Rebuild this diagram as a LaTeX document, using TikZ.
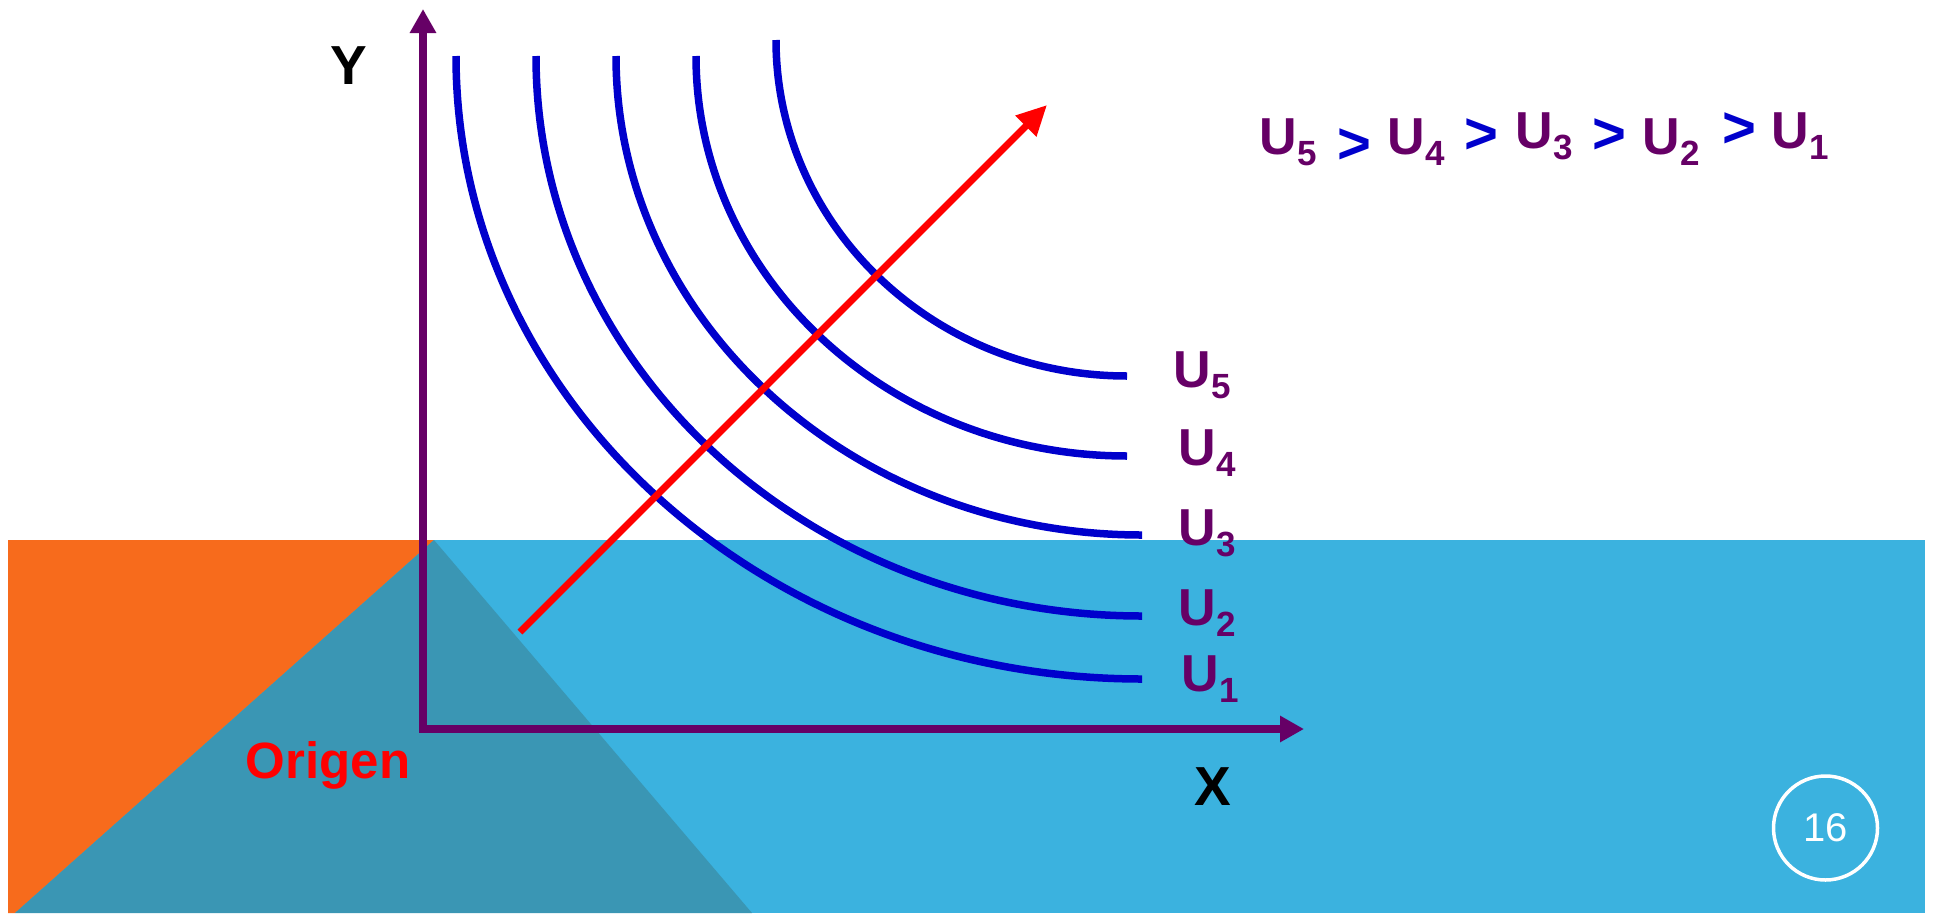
\documentclass[tikz,border=0pt]{standalone}
\usepackage{fontspec}
\setmainfont{Liberation Sans}
\usetikzlibrary{arrows.meta}
\definecolor{bandblue}{HTML}{3BB2DF}
\definecolor{bandorange}{HTML}{F76B1C}
\definecolor{bandteal}{HTML}{3A96B4}
\definecolor{axpurple}{HTML}{660066}
\definecolor{curveblue}{HTML}{0000CC}
\definecolor{arrowred}{HTML}{FF0000}
\tikzset{
  ucurve/.style={draw=curveblue, line width=7.5pt},
  axisline/.style={draw=axpurple, line width=8pt, line join=miter,
    {Triangle[length=24pt,width=25pt]}-{Triangle[length=24pt,width=25pt]}},
  redarrow/.style={draw=arrowred, line width=7pt, -{Triangle[length=30pt,width=28pt]}},
  ulab/.style={inner sep=0pt, anchor=base west, text=axpurple,
    font=\fontsize{52}{60}\selectfont\bfseries},
  gt/.style={inner sep=0pt, anchor=center, text=curveblue,
    font=\fontsize{58}{66}\selectfont\bfseries},
  axlab/.style={inner sep=0pt, anchor=center, text=black,
    font=\fontsize{55}{62}\selectfont\bfseries},
}
\newcommand{\Usub}[1]{U\kern1pt\raisebox{-11pt}{\fontsize{35}{40}\selectfont #1}}
\begin{document}
\begin{tikzpicture}[x=1pt,y=-1pt]
\useasboundingbox (0,0) rectangle (1937,913);
% background band
\fill[bandblue] (8,540) rectangle (1925,913);
\fill[bandorange] (8,540) -- (434,540) -- (15,913) -- (8,913) -- cycle;
\fill[bandteal] (434,540) -- (15,913) -- (752,913) -- cycle;
% indifference curves
\coordinate (u1s) at (456,56);  \coordinate (u1e) at (1142,679);
\coordinate (u2s) at (536,56);  \coordinate (u2e) at (1142,616);
\coordinate (u3s) at (616,56);  \coordinate (u3e) at (1142,535);
\coordinate (u4s) at (696,56);  \coordinate (u4e) at (1127,456);
\coordinate (u5s) at (776,40);  \coordinate (u5e) at (1127,376);
\draw[ucurve] (u1s) .. controls (456,400) and (763,679) .. (u1e);
\draw[ucurve] (u2s) .. controls (536,365) and (807,616) .. (u2e);
\draw[ucurve] (u3s) .. controls (616,320) and (852,535) .. (u3e);
\draw[ucurve] (u4s) .. controls (696,277) and (889,456) .. (u4e);
\draw[ucurve] (u5s) .. controls (776,225) and (933,376) .. (u5e);
% axes
\coordinate (O) at (423,729);
\coordinate (Ytip) at (423,9);
\coordinate (Xtip) at (1304,729);
\draw[axisline] (Ytip) -- (O) -- (Xtip);
% red arrow
\coordinate (rs) at (520,632);
\coordinate (re) at (1047,105);
\draw[redarrow] (rs) -- (re);
% axis labels
\node[axlab] (ylab) at (349,66) {Y};
\node[axlab] (xlab) at (1213,787) {X};
\node[inner sep=0pt, anchor=center, text=arrowred, font=\fontsize{51}{58}\selectfont\bfseries] (origen) at (328,765) {Origen};
% curve labels
\node[ulab] (l5) at (1173,387) {\Usub{5}};
\node[ulab] (l4) at (1178,465) {\Usub{4}};
\node[ulab] (l3) at (1178,545) {\Usub{3}};
\node[ulab] (l2) at (1178,625) {\Usub{2}};
\node[ulab] (l1) at (1181,691) {\Usub{1}};
% ordering formula
\node[ulab] (f5) at (1259,154) {\Usub{5}};
\node[gt] (g1) at (1354,146) {>};
\node[ulab] (f4) at (1387,154) {\Usub{4}};
\node[gt] (g2) at (1481,136) {>};
\node[ulab] (f3) at (1515,148) {\Usub{3}};
\node[gt] (g3) at (1609,136) {>};
\node[ulab] (f2) at (1642,154) {\Usub{2}};
\node[gt] (g4) at (1739,130) {>};
\node[ulab] (f1) at (1771,148) {\Usub{1}};
% page number
\node[circle, draw=white, line width=3.5pt, minimum size=104pt, inner sep=0pt,
  text=white, font=\fontsize{40}{46}\selectfont] (page) at (1825.5,828) {16};
\end{tikzpicture}
\end{document}
